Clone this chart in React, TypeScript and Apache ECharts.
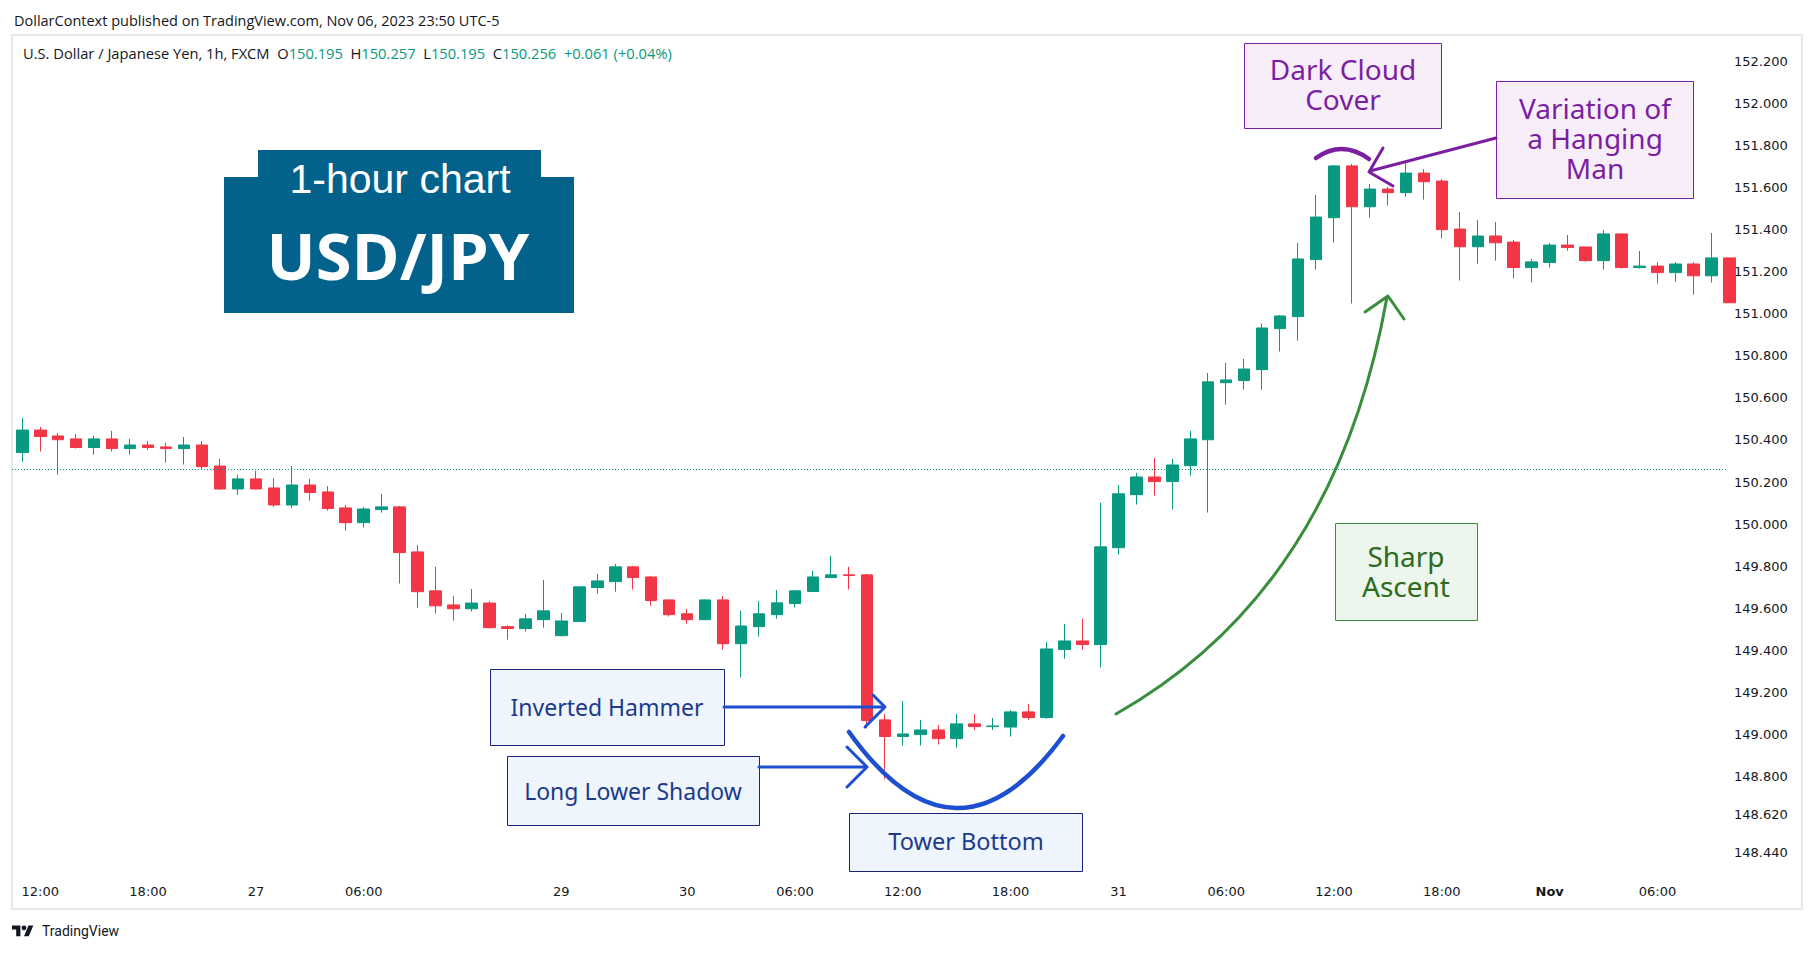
import React, { useEffect, useRef } from 'react';
import * as echarts from 'echarts';

// ---- Data (USD/JPY, 1h, FXCM) ----
const OPEN = [
  150.340, 150.447, 150.419, 150.405, 150.364, 150.405, 150.359, 150.376, 150.367, 150.359,
  150.376, 150.276, 150.167, 150.215, 150.172, 150.091, 150.186, 150.153, 150.077, 150.007,
  150.069, 150.082, 149.868, 149.683, 149.616, 149.598, 149.625, 149.513, 149.504, 149.546,
  149.470, 149.537, 149.699, 149.727, 149.797, 149.749, 149.640, 149.574, 149.546, 149.640,
  149.432, 149.513, 149.570, 149.623, 149.680, 149.746, 149.759, 149.759, 149.070, 148.991,
  149.000, 149.022, 148.981, 149.051, 149.038, 149.036, 149.108, 149.081, 149.404, 149.445,
  149.428, 149.888, 150.140, 150.224, 150.202, 150.278, 150.401, 150.672, 150.682, 150.734,
  150.929, 150.986, 151.257, 151.456, 151.702, 151.508, 151.592, 151.575, 151.668, 151.630,
  151.402, 151.318, 151.369, 151.340, 151.219, 151.243, 151.326, 151.317, 151.252, 151.379,
  151.219, 151.226, 151.195, 151.236, 151.180, 151.265,
];
const HIGH = [
  150.504, 150.462, 150.433, 150.428, 150.419, 150.443, 150.405, 150.395, 150.386, 150.414,
  150.395, 150.310, 150.234, 150.253, 150.219, 150.276, 150.215, 150.181, 150.091, 150.082,
  150.143, 150.087, 149.901, 149.797, 149.659, 149.692, 149.634, 149.520, 149.573, 149.735,
  149.578, 149.705, 149.763, 149.811, 149.802, 149.754, 149.641, 149.597, 149.642, 149.659,
  149.588, 149.635, 149.687, 149.687, 149.778, 149.849, 149.797, 149.764, 149.098, 149.160,
  149.070, 149.046, 149.098, 149.098, 149.079, 149.117, 149.146, 149.440, 149.526, 149.550,
  150.101, 150.186, 150.243, 150.315, 150.310, 150.443, 150.718, 150.766, 150.785, 150.953,
  150.994, 151.336, 151.564, 151.706, 151.711, 151.616, 151.602, 151.725, 151.687, 151.640,
  151.483, 151.445, 151.436, 151.350, 151.260, 151.336, 151.374, 151.317, 151.397, 151.379,
  151.298, 151.245, 151.245, 151.245, 151.383, 151.265,
];
const LOW = [
  150.297, 150.345, 150.235, 150.359, 150.330, 150.345, 150.330, 150.352, 150.292, 150.283,
  150.257, 150.162, 150.139, 150.165, 150.082, 150.077, 150.112, 150.064, 149.969, 149.984,
  150.055, 149.718, 149.603, 149.575, 149.542, 149.585, 149.504, 149.451, 149.490, 149.508,
  149.466, 149.535, 149.670, 149.679, 149.689, 149.613, 149.561, 149.527, 149.545, 149.404,
  149.271, 149.466, 149.551, 149.604, 149.679, 149.745, 149.689, 149.029, 148.788, 148.948,
  148.948, 148.953, 148.938, 149.022, 149.022, 148.991, 149.070, 149.075, 149.361, 149.404,
  149.319, 149.855, 150.093, 150.136, 150.069, 150.231, 150.055, 150.568, 150.639, 150.639,
  150.820, 150.872, 151.209, 151.338, 151.048, 151.456, 151.513, 151.556, 151.542, 151.357,
  151.157, 151.238, 151.252, 151.167, 151.148, 151.219, 151.299, 151.247, 151.209, 151.214,
  151.214, 151.143, 151.152, 151.090, 151.148, 151.050,
];
const CLOSE = [
  150.447, 150.416, 150.401, 150.364, 150.405, 150.359, 150.376, 150.364, 150.359, 150.376,
  150.273, 150.167, 150.215, 150.167, 150.091, 150.186, 150.150, 150.074, 150.007, 150.072,
  150.082, 149.865, 149.679, 149.612, 149.598, 149.625, 149.508, 149.504, 149.550, 149.588,
  149.540, 149.702, 149.730, 149.797, 149.746, 149.637, 149.570, 149.546, 149.640, 149.432,
  149.516, 149.574, 149.626, 149.683, 149.749, 149.759, 149.756, 149.067, 148.991, 149.003,
  149.022, 148.981, 149.051, 149.038, 149.041, 149.108, 149.081, 149.407, 149.445, 149.428,
  149.892, 150.144, 150.224, 150.202, 150.281, 150.405, 150.676, 150.685, 150.737, 150.932,
  150.989, 151.260, 151.459, 151.702, 151.508, 151.592, 151.575, 151.668, 151.627, 151.399,
  151.318, 151.369, 151.337, 151.219, 151.246, 151.326, 151.314, 151.252, 151.379, 151.219,
  151.226, 151.195, 151.236, 151.180, 151.265, 151.052,
];
const LAST_PRICE = 150.256;

const X_TICK_INDEX = [1, 7, 13, 19, 30, 37, 43, 49, 55, 61, 67, 73, 79, 85, 91];
const X_TICK_LABELS = ['12:00', '18:00', '27', '06:00', '29', '30', '06:00', '12:00', '18:00', '31', '06:00', '12:00', '18:00', 'Nov', '06:00'];
const Y_TICKS = [152.2, 152.0, 151.8, 151.6, 151.4, 151.2, 151.0, 150.8, 150.6, 150.4, 150.2, 150.0, 149.8, 149.6, 149.4, 149.2, 149.0, 148.8, 148.62, 148.44];

const UP = '#089981';
const DOWN = '#F23645';
const PURPLE = '#7B1FA2';
const GREEN = '#388E3C';
const BLUE = '#1C4FD1';
const NAVY = '#1A237E';
const NOTE_FONT = '"Noto Sans", sans-serif';
const UI_FONT = '"Open Sans", sans-serif';

function txt(x: number, y: number, text: string, fill: string, fontSize: number, lineHeight = 30) {
  return {
    type: 'text', x, y, z: 60, silent: true,
    style: {
      text, fill, fontSize, fontFamily: NOTE_FONT, lineHeight,
      align: 'center', verticalAlign: 'middle', textAlign: 'center', textVerticalAlign: 'middle',
    },
  };
}
function box(x: number, y: number, w: number, h: number, fill: string, stroke: string) {
  return { type: 'rect', z: 55, silent: true, shape: { x: x + 0.5, y: y + 0.5, width: w, height: h }, style: { fill, stroke, lineWidth: 1 } };
}
function seg(points: number[][], stroke: string, lineWidth: number) {
  return { type: 'polyline', z: 58, silent: true, shape: { points }, style: { stroke, lineWidth, fill: 'none', lineCap: 'round', lineJoin: 'round' } };
}
function curve(x1: number, y1: number, cx: number, cy: number, x2: number, y2: number, stroke: string, lineWidth: number) {
  return { type: 'bezierCurve', z: 58, silent: true, shape: { x1, y1, cpx1: cx, cpy1: cy, x2, y2 }, style: { stroke, lineWidth, fill: 'none', lineCap: 'round' } };
}

export default function App() {
  const ref = useRef<HTMLDivElement>(null);
  useEffect(() => {
    if (!ref.current) return;
    try {
      echarts.graphic.registerShape('tvlogo', echarts.graphic.extendPath('M14 22H7V11H0V4h14v18zM28 22h-8l7.5-18h8L28 22z', {}));
    } catch (e) { /* already registered */ }
    const chart = echarts.init(ref.current, null, { renderer: 'svg' });

    const data = OPEN.map((o, i) => [i, o, CLOSE[i], LOW[i], HIGH[i]]);

    const option: any = {
      animation: false,
      backgroundColor: '#ffffff',
      grid: { left: 12, right: 88, top: 35, bottom: 78, containLabel: false },
      xAxis: {
        type: 'value', min: -0.573, max: 94.87,
        axisLine: { show: false }, axisTick: { show: false }, splitLine: { show: false },
        axisLabel: {
          customValues: X_TICK_INDEX,
          margin: 10,
          color: '#131722', fontSize: 13, fontFamily: '"DejaVu Sans", sans-serif',
          formatter: (v: number) => {
            const k = X_TICK_INDEX.indexOf(Math.round(v));
            if (k < 0) return '';
            const s = X_TICK_LABELS[k];
            return s === 'Nov' ? '{b|Nov}' : s;
          },
          rich: { b: { fontWeight: 'bold', color: '#131722', fontSize: 13, fontFamily: '"DejaVu Sans", sans-serif' } },
        },
      },
      yAxis: {
        type: 'value', position: 'right', min: 148.333, max: 152.324, scale: true,
        axisLine: { show: false }, axisTick: { show: false }, splitLine: { show: false },
        axisLabel: {
          customValues: Y_TICKS,
          margin: 7,
          color: '#131722', fontSize: 13, fontFamily: '"DejaVu Sans", sans-serif',
          formatter: (v: number) => v.toFixed(3),
        },
      },
      series: [
        {
          type: 'candlestick',
          data,
          encode: { x: 0, y: [1, 2, 3, 4] },
          barWidth: 12,
          clip: true,
          itemStyle: { color: UP, color0: DOWN, borderColor: UP, borderColor0: DOWN, borderWidth: 1 },
          markLine: {
            silent: true, symbol: ['none', 'none'], label: { show: false },
            lineStyle: { color: UP, type: [1, 2], width: 1 },
            data: [{ yAxis: LAST_PRICE }],
          },
        },
      ],
      graphic: {
        elements: [
          // outer frame
          { type: 'rect', z: 1, silent: true, shape: { x: 12, y: 35, width: 1790, height: 874 }, style: { fill: 'none', stroke: '#E7E8EE', lineWidth: 2 } },
          // header
          { type: 'text', x: 14, y: 20, z: 60, silent: true, style: { text: 'DollarContext published on TradingView.com, Nov 06, 2023 23:50 UTC-5', fill: '#131722', fontSize: 14.5, fontFamily: UI_FONT, verticalAlign: 'middle', textVerticalAlign: 'middle' } },
          {
            type: 'text', x: 23, y: 53, z: 60, silent: true,
            style: {
              text: '{d|U.S. Dollar / Japanese Yen, 1h, FXCM}  {d|O}{g|150.195}  {d|H}{g|150.257}  {d|L}{g|150.195}  {d|C}{g|150.256}  {g|+0.061 (+0.04%)}',
              fill: '#131722', fontSize: 14.7, fontFamily: UI_FONT, verticalAlign: 'middle', textVerticalAlign: 'middle',
              rich: {
                d: { fill: '#131722', fontSize: 14.7, fontFamily: UI_FONT },
                g: { fill: UP, fontSize: 14.7, fontFamily: UI_FONT },
              },
            },
          },
          // title badge
          { type: 'rect', z: 50, silent: true, shape: { x: 258, y: 150, width: 283, height: 30 }, style: { fill: '#03628B' } },
          { type: 'rect', z: 50, silent: true, shape: { x: 224, y: 177, width: 350, height: 136 }, style: { fill: '#03628B' } },
          { type: 'text', x: 400, y: 179, z: 60, silent: true, style: { text: '1-hour chart', fill: '#ffffff', fontSize: 41, fontFamily: '"Liberation Sans", Arial, sans-serif', align: 'center', verticalAlign: 'middle', textAlign: 'center', textVerticalAlign: 'middle' } },
          { type: 'text', x: 398, y: 255, z: 60, silent: true, style: { text: 'USD/JPY', fill: '#ffffff', fontSize: 65, fontWeight: 'bold', fontFamily: '"Open Sans", sans-serif', align: 'center', verticalAlign: 'middle', textAlign: 'center', textVerticalAlign: 'middle' } },
          // Dark Cloud Cover
          box(1244, 43, 197, 85, '#F7EEF9', PURPLE),
          txt(1343, 84, 'Dark Cloud\nCover', PURPLE, 28),
          // Variation of a Hanging Man
          box(1496, 81, 197, 117, '#F7EEF9', PURPLE),
          txt(1595, 138, 'Variation of\na Hanging\nMan', PURPLE, 28),
          seg([[1496, 138], [1370, 171]], PURPLE, 3),
          seg([[1383, 148], [1369, 172], [1393, 186]], PURPLE, 3),
          curve(1316, 158, 1342, 139.5, 1369, 159, PURPLE, 4.5),
          // Sharp Ascent
          box(1335, 523, 142, 97, '#EDF6EC', GREEN),
          txt(1406, 571, 'Sharp\nAscent', '#2E6B22', 28),
          curve(1116, 714, 1335, 590, 1387, 297, GREEN, 3),
          seg([[1365, 312], [1388, 296], [1404, 319]], GREEN, 3),
          // Inverted Hammer
          box(490, 669, 234, 76, '#EEF5FD', NAVY),
          txt(607, 707, 'Inverted Hammer', '#1E3A8A', 23),
          seg([[724, 707], [884, 707]], BLUE, 3),
          seg([[873, 695], [885, 707], [865, 727]], BLUE, 3),
          // Long Lower Shadow
          box(507, 756, 252, 69, '#EEF5FD', NAVY),
          txt(633, 791, 'Long Lower Shadow', '#1E3A8A', 23),
          seg([[759, 767], [866, 767]], BLUE, 3),
          seg([[847, 747], [867, 767], [847, 787]], BLUE, 3),
          // Tower Bottom
          curve(849, 732, 956, 882, 1063, 736, BLUE, 4.5),
          box(849, 813, 233, 58, '#EEF5FD', NAVY),
          txt(966, 841, 'Tower Bottom', '#1E3A8A', 23.5),
          // TradingView logo
          { type: 'tvlogo', x: 12, y: 923, scaleX: 0.6, scaleY: 0.6, z: 60, silent: true, style: { fill: '#131722' } },
          { type: 'circle', z: 60, silent: true, shape: { cx: 12 + 20 * 0.6, cy: 923 + 8 * 0.6, r: 2.4 }, style: { fill: '#131722' } },
          { type: 'text', x: 42, y: 931, z: 60, silent: true, style: { text: 'TradingView', fill: '#131722', fontSize: 14, fontFamily: 'Roboto, sans-serif', verticalAlign: 'middle', textVerticalAlign: 'middle' } },
        ],
      },
    };
    chart.setOption(option);
    return () => chart.dispose();
  }, []);
  return <div ref={ref} style={{ position: 'fixed', left: 0, top: 0, width: 1815, height: 953, background: '#fff' }} />;
}
